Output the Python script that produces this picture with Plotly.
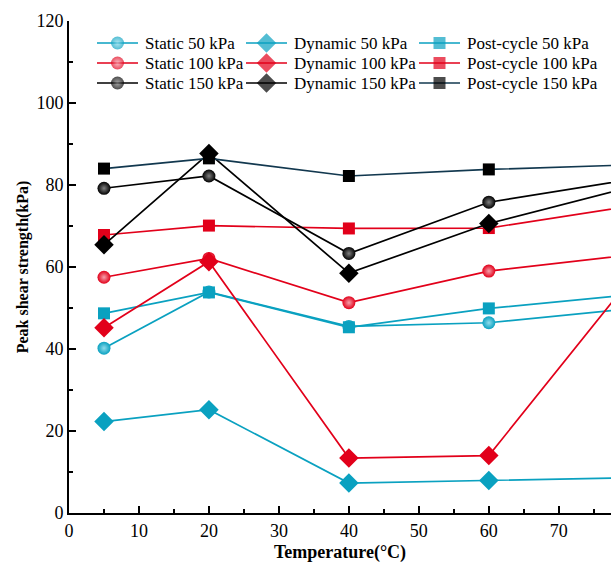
import plotly.graph_objects as go

temps = [5, 20, 40, 60, 80]

static_50 = [40.2, 53.9, 45.5, 46.4, 49.8]
dynamic_50 = [22.3, 25.2, 7.3, 7.9, 8.6]
post_50 = [48.7, 53.8, 45.3, 49.9, 53.2]

static_100 = [57.5, 62.1, 51.3, 59.0, 62.9]
dynamic_100 = [45.2, 61.3, 13.4, 14.0, 56.5]
post_100 = [67.8, 70.1, 69.4, 69.5, 74.8]

static_150 = [79.2, 82.2, 63.3, 75.8, 81.3]
dynamic_150 = [65.4, 87.7, 58.5, 70.6, 79.4]
post_150 = [84.0, 86.5, 82.2, 83.8, 84.9]

CYAN = "#0aa1c0"
RED = "#e2001a"
BLACK = "#000000"
NAVY = "#12384f"

# name, values, line colour, marker colour, highlight colour, symbol
series = [
    ("Static 50 kPa", static_50, CYAN, CYAN, "#8fdcec", "circle"),
    ("Dynamic 50 kPa", dynamic_50, CYAN, CYAN, None, "diamond"),
    ("Post-cycle 50 kPa", post_50, CYAN, CYAN, None, "square"),
    ("Static 100 kPa", static_100, RED, RED, "#f5a0ab", "circle"),
    ("Dynamic 100 kPa", dynamic_100, RED, RED, None, "diamond"),
    ("Post-cycle 100 kPa", post_100, RED, RED, None, "square"),
    ("Static 150 kPa", static_150, BLACK, BLACK, "#808080", "circle"),
    ("Dynamic 150 kPa", dynamic_150, BLACK, BLACK, None, "diamond"),
    ("Post-cycle 150 kPa", post_150, NAVY, BLACK, None, "square"),
]

FONT = "Liberation Serif"
SIZES = {"circle": 13, "square": 12, "diamond": 15}

# legend layout (pixel offsets inside the plot area)
PLOT_W, PLOT_H = 542, 492
LEG_COLS = [28, 177, 350]     # line start of each column
LEG_ROWS = [22, 42, 62]       # row centres from top of plot area
LEG_LINE = 41
LEG_GAP = 5

fig = go.Figure()
for name, vals, lc, mc, hl, sym in series:
    marker = dict(symbol=sym, size=SIZES[sym], color=mc, line=dict(width=0))
    if hl:
        marker["gradient"] = dict(type="radial", color=hl)
    fig.add_trace(go.Scatter(
        x=temps, y=vals, name=name, mode="lines+markers",
        line=dict(color=lc, width=1.7), marker=marker, showlegend=False,
    ))

annotations = []
for i, (name, vals, lc, mc, hl, sym) in enumerate(series):
    r, c = divmod(i, 3)
    x0 = LEG_COLS[c]
    yy = LEG_ROWS[r]
    marker = dict(symbol=sym, size=[0, SIZES[sym], 0], color=mc, line=dict(width=0))
    if hl:
        marker["gradient"] = dict(type="radial", color=hl)
    fig.add_trace(go.Scatter(
        x=[x0, x0 + LEG_LINE / 2, x0 + LEG_LINE], y=[yy, yy, yy],
        xaxis="x2", yaxis="y2", mode="lines+markers",
        line=dict(color=lc, width=1.7), marker=marker,
        showlegend=False, hoverinfo="skip",
    ))
    annotations.append(dict(
        x=x0 + LEG_LINE + LEG_GAP, y=yy, xref="x2", yref="y2",
        text=name, showarrow=False, xanchor="left", yanchor="middle",
        font=dict(family=FONT, size=17, color="black"),
    ))

fig.update_layout(
    width=611, height=566,
    margin=dict(l=69, r=0, t=21, b=53),
    paper_bgcolor="white", plot_bgcolor="white",
    font=dict(family=FONT, size=18, color="black"),
    showlegend=False,
    annotations=annotations,
    xaxis=dict(
        range=[0, 77.46], tickmode="array",
        tickvals=[0, 10, 20, 30, 40, 50, 60, 70],
        ticks="inside", ticklen=7, tickwidth=1.5, tickcolor="black",
        minor=dict(dtick=5, ticks="inside", ticklen=4, tickwidth=1.5, tickcolor="black"),
        showline=True, linecolor="black", linewidth=2,
        showgrid=False, zeroline=False,
        tickfont=dict(family=FONT, size=18, color="black"),
        title=dict(text="<b>Temperature(°C)</b>", font=dict(family=FONT, size=18, color="black"), standoff=6),
    ),
    yaxis=dict(
        range=[0, 120], tickmode="array",
        tickvals=[0, 20, 40, 60, 80, 100, 120],
        ticks="inside", ticklen=7, tickwidth=1.5, tickcolor="black",
        minor=dict(dtick=10, ticks="inside", ticklen=4, tickwidth=1.5, tickcolor="black"),
        showline=True, linecolor="black", linewidth=2,
        showgrid=False, zeroline=False,
        tickfont=dict(family=FONT, size=18, color="black"),
        title=dict(text="<b>Peak shear strength(kPa)</b>", font=dict(family=FONT, size=16, color="black"), standoff=4),
    ),
    xaxis2=dict(overlaying="x", anchor="y2", range=[0, PLOT_W], visible=False, fixedrange=True),
    yaxis2=dict(overlaying="y", anchor="x2", range=[PLOT_H, 0], visible=False, fixedrange=True),
)

fig.write_html("out.html")
